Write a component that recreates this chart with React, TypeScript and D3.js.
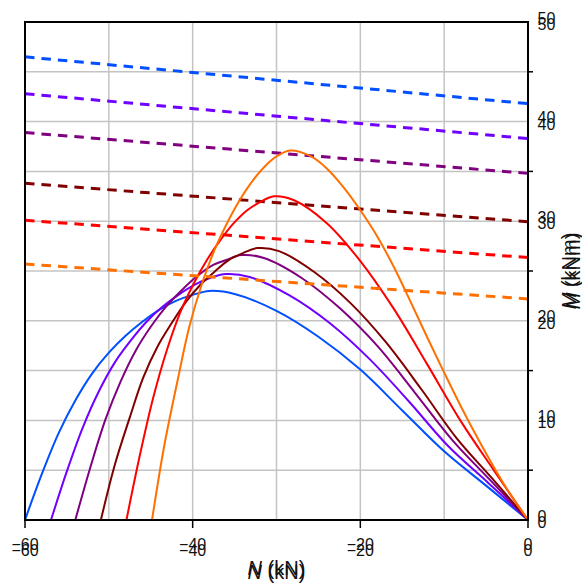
import React from "react";
import * as d3 from "d3";

// Plot geometry
const WIDTH = 582;
const HEIGHT = 586;
const LEFT = 25;
const RIGHT = 528;
const TOP = 22;
const BOTTOM = 520;

// Axes
const N_DOMAIN: [number, number] = [-60, 0];
const M_DOMAIN: [number, number] = [0, 50];
const N_LABEL_TICKS = [-60, -40, -20, 0];
const N_GRID = [-50, -40, -30, -20, -10];
const M_LABEL_TICKS = [0, 10, 20, 30, 40, 50];
const M_GRID = [5, 10, 15, 20, 25, 30, 35, 40, 45];
const M_MINOR_TICKS = [5, 15, 25, 35, 45];

// Series colours (one per case)
const SERIES_COLORS = ["#0050ff", "#7000ff", "#800080", "#800000", "#ff0000", "#ff7000"];

// Resistance curves: [N (kN), M (kNm)]
const curveBlue: [number, number][] = [
  [-60, 0], [-58, 4.6], [-56, 8.7], [-54, 12.0], [-52, 14.7], [-50, 16.8], [-48, 18.5],
  [-46, 19.9], [-44, 21.1], [-42, 22.0], [-40, 22.6], [-38, 23.0], [-35, 22.7],
  [-30, 21.0], [-25, 18.4], [-20, 15.1], [-15, 11.0], [-10, 6.9], [-5, 3.45], [0, 0],
];
const curveViolet: [number, number][] = [
  [-56.9, 0], [-55.0, 4.9], [-53.1, 9.3], [-51.2, 12.9], [-49.3, 15.8], [-47.4, 18.0],
  [-45.5, 19.9], [-43.6, 21.4], [-41.7, 22.6], [-39.8, 23.6], [-37.95, 24.3], [-36.0, 24.7],
  [-33.2, 24.4], [-28.45, 22.55], [-23.7, 19.8], [-18.95, 16.2], [-14.2, 11.9],
  [-9.5, 7.4], [-4.7, 3.7], [0, 0],
];
const curvePurple: [number, number][] = [
  [-54, 0], [-52.2, 5.3], [-50.4, 10.1], [-48.6, 13.9], [-46.8, 17.0], [-45.0, 19.4],
  [-43.2, 21.4], [-41.4, 23.0], [-39.6, 24.4], [-37.8, 25.5], [-36.0, 26.1], [-34.2, 26.6],
  [-31.5, 26.3], [-27.0, 24.3], [-22.5, 21.3], [-18.0, 17.5], [-13.5, 12.8], [-9.0, 8.0],
  [-4.5, 4.0], [0, 0],
];
const curveDarkRed: [number, number][] = [
  [-50.95, 0], [-49.3, 5.5], [-47.5, 10.3], [-45.9, 14.3], [-44.2, 17.4], [-42.4, 19.9],
  [-40.8, 21.9], [-39.1, 23.6], [-37.3, 25.0], [-35.7, 26.1], [-34.0, 26.8], [-32.3, 27.3],
  [-29.7, 27.0], [-25.5, 24.9], [-21.2, 21.8], [-17.0, 17.9], [-12.7, 13.1], [-8.5, 8.2],
  [-4.2, 4.1], [0, 0],
];
const curveRed: [number, number][] = [
  [-47.9, 0], [-46.3, 6.5], [-44.7, 12.3], [-43.1, 17.0], [-41.5, 20.8], [-39.9, 23.7],
  [-38.3, 26.1], [-36.7, 28.1], [-35.1, 29.8], [-33.5, 31.1], [-31.9, 31.95], [-30.3, 32.5],
  [-27.9, 32.1], [-24.0, 29.8], [-20.0, 26.0], [-16.0, 21.2], [-12.0, 15.6], [-8.0, 9.9],
  [-4.0, 4.9], [0, 0],
];
const curveOrange: [number, number][] = [
  [-44.85, 0], [-43.4, 7.4], [-41.8, 14.0], [-40.4, 19.4], [-38.9, 23.7], [-37.4, 27.1],
  [-35.9, 29.8], [-34.4, 32.1], [-32.9, 34.0], [-31.4, 35.5], [-29.9, 36.55], [-28.4, 37.1],
  [-26.1, 36.6], [-24, 35.3], [-22, 33.4], [-20, 31.1], [-18, 28.5], [-16, 25.4],
  [-14, 21.9], [-12, 18.3], [-10, 14.8], [-8, 11.4], [-6, 8.2], [-4, 5.2], [-2, 2.45], [0, 0],
];
const RESISTANCE_CURVES = [curveBlue, curveViolet, curvePurple, curveDarkRed, curveRed, curveOrange];

// Design-load lines: [N (kN), M (kNm)] at both ends of the axis
const loadBlue: [number, number][] = [[-60, 46.5], [0, 41.8]];
const loadViolet: [number, number][] = [[-60, 42.8], [0, 38.3]];
const loadPurple: [number, number][] = [[-60, 38.9], [0, 34.8]];
const loadDarkRed: [number, number][] = [[-60, 33.8], [0, 29.95]];
const loadRed: [number, number][] = [[-60, 30.1], [0, 26.35]];
const loadOrange: [number, number][] = [[-60, 25.7], [0, 22.2]];
const LOAD_LINES = [loadBlue, loadViolet, loadPurple, loadDarkRed, loadRed, loadOrange];

const FONT = "'Liberation Sans', Arial, sans-serif";
const TEXT_COLOR = "#111";

function DoubleText(props: {
  x: number;
  y: number;
  offset: number;
  size: number;
  anchor?: string;
  transform?: string;
  children: React.ReactNode;
}) {
  const { x, y, offset, size, anchor = "middle", transform, children } = props;
  return (
    <g transform={transform}>
      {[0, offset].map((o, i) => (
        <text
          key={i}
          x={x}
          y={y + o}
          fontSize={size}
          fontFamily={FONT}
          textAnchor={anchor}
          fill={TEXT_COLOR}
        >
          {children}
        </text>
      ))}
    </g>
  );
}

export default function App() {
  const x = d3.scaleLinear().domain(N_DOMAIN).range([LEFT, RIGHT]);
  const y = d3.scaleLinear().domain(M_DOMAIN).range([BOTTOM, TOP]);

  const smooth = d3
    .line<[number, number]>()
    .x((d) => x(d[0]))
    .y((d) => y(d[1]))
    .curve(d3.curveCatmullRom.alpha(0.5));
  const straight = d3
    .line<[number, number]>()
    .x((d) => x(d[0]))
    .y((d) => y(d[1]));

  return (
    <svg
      width={WIDTH}
      height={HEIGHT}
      style={{ position: "absolute", left: 0, top: 0, background: "#fff" }}
    >
      <rect x={0} y={0} width={WIDTH} height={HEIGHT} fill="#fff" />

      {/* grid */}
      <g stroke="#c4c4c4" strokeWidth={1.5}>
        {N_GRID.map((n) => (
          <line key={"gx" + n} x1={x(n)} x2={x(n)} y1={TOP} y2={BOTTOM} />
        ))}
        {M_GRID.map((m) => (
          <line key={"gy" + m} x1={LEFT} x2={RIGHT} y1={y(m)} y2={y(m)} />
        ))}
      </g>

      {/* resistance curves and load lines */}
      {SERIES_COLORS.map((c, i) => (
        <g key={"s" + i}>
          <path d={smooth(RESISTANCE_CURVES[i]) || ""} fill="none" stroke={c} strokeWidth={2} />
          <path
            d={straight(LOAD_LINES[i]) || ""}
            fill="none"
            stroke={c}
            strokeWidth={3}
            strokeDasharray="9.5,7"
          />
        </g>
      ))}

      {/* frame */}
      <rect
        x={LEFT}
        y={TOP}
        width={RIGHT - LEFT}
        height={BOTTOM - TOP}
        fill="none"
        stroke="#000"
        strokeWidth={2}
      />

      {/* ticks */}
      <g stroke="#000" strokeWidth={1.5}>
        {N_LABEL_TICKS.map((n) => (
          <line key={"tx" + n} x1={x(n)} x2={x(n)} y1={BOTTOM} y2={BOTTOM + 8} />
        ))}
        {M_MINOR_TICKS.map((m) => (
          <line key={"ty" + m} x1={RIGHT} x2={RIGHT + 5} y1={y(m)} y2={y(m)} />
        ))}
      </g>

      {/* tick labels */}
      {N_LABEL_TICKS.map((n) => (
        <DoubleText key={"lx" + n} x={x(n)} y={549.8} offset={6} size={16}>
          {d3.format("d")(n)}
        </DoubleText>
      ))}
      {M_LABEL_TICKS.map((m) => (
        <DoubleText key={"ly" + m} x={537.5} y={y(m) + 1.5} offset={6.5} size={16} anchor="start">
          {d3.format("d")(m)}
        </DoubleText>
      ))}

      {/* axis titles */}
      <DoubleText x={(LEFT + RIGHT) / 2} y={574.6} offset={4.5} size={20}>
        <tspan fontStyle="italic">N</tspan> (kN)
      </DoubleText>
      <DoubleText
        x={0}
        y={0}
        offset={4}
        size={20}
        transform={`translate(576,${(TOP + BOTTOM) / 2}) rotate(-90)`}
      >
        <tspan fontStyle="italic">M</tspan> (kNm)
      </DoubleText>
    </svg>
  );
}
